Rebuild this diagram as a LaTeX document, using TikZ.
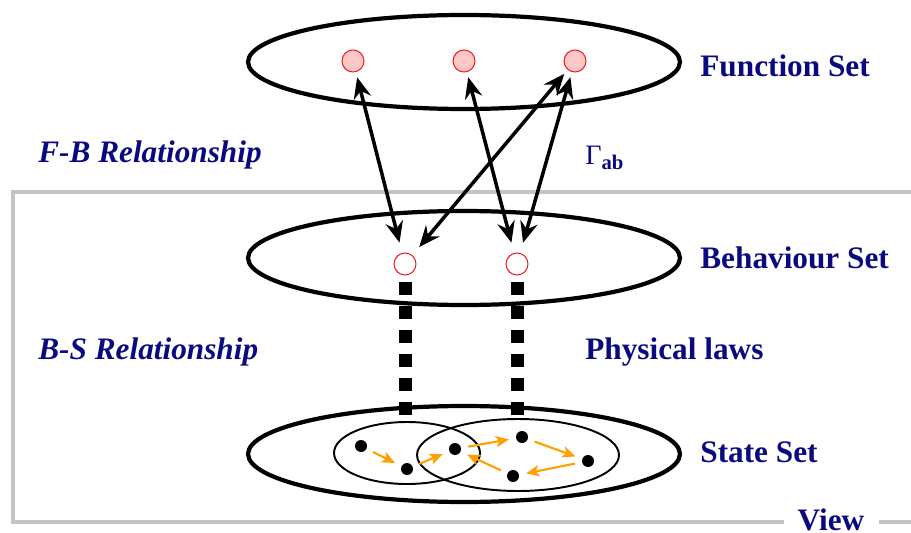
\documentclass[tikz,border=0pt]{standalone}
\usepackage{fontspec}
\setmainfont{Liberation Serif}
\usetikzlibrary{arrows.meta}
\definecolor{fbnavy}{RGB}{10,10,128}
\definecolor{fbpink}{RGB}{255,200,200}
\definecolor{fbred}{RGB}{240,30,30}
\definecolor{fborange}{RGB}{255,160,0}
\definecolor{fbgray}{RGB}{195,195,195}

\begin{document}
\begin{tikzpicture}[x=0.02cm,y=-0.02cm,
  setring/.style={line width=2.4pt},
  func/.style={circle,draw=fbred,fill=fbpink,line width=0.6pt,minimum size=0.44cm,inner sep=0pt},
  behav/.style={circle,draw=fbred,fill=white,line width=0.6pt,minimum size=0.44cm,inner sep=0pt},
  state/.style={circle,fill=black,minimum size=0.24cm,inner sep=0pt},
  fbarrow/.style={{Stealth[length=12pt,width=10pt,inset=4pt]}-{Stealth[length=12pt,width=10pt,inset=4pt]},line width=2pt,shorten <=6pt,shorten >=3pt},
  starrow/.style={-{Stealth[length=7.5pt,width=6.5pt,inset=2pt]},fborange,line width=1.2pt,shorten <=4pt,shorten >=4pt},
  law/.style={line width=0.26cm,dash pattern=on 0.26cm off 0.22cm},
  lbl/.style={text=fbnavy,font=\fontsize{17.8}{20}\selectfont\bfseries,anchor=west,inner sep=0pt},
  rel/.style={lbl,font=\fontsize{17.8}{20}\selectfont\bfseries\itshape}]
  \useasboundingbox (0,0) rectangle (911,533);

  % view frame
  \draw[fbgray,line width=2.3pt] (911,192) -- (13,192) -- (13,522) -- (784,522);
  \draw[fbgray,line width=2.3pt] (879,522) -- (911,522);
  \node[text=fbnavy,font=\fontsize{17.8}{20}\selectfont\bfseries,inner sep=0pt] (view) at (831,520) {View};

  % the three sets
  \draw[setring] (464,62) ellipse (4.32cm and 0.94cm);
  \draw[setring] (464,258) ellipse (4.32cm and 0.94cm);
  \draw[setring] (464,454) ellipse (4.32cm and 0.96cm);
  \draw[line width=1.1pt] (407,453) ellipse (1.46cm and 0.62cm);
  \draw[line width=1.1pt] (518,455) ellipse (2.02cm and 0.72cm);

  \node[func] (f1) at (353,61) {};
  \node[func] (f2) at (464,61) {};
  \node[func] (f3) at (575,61) {};
  \node[behav] (b1) at (405,264) {};
  \node[behav] (b2) at (517,264) {};

  \node[state] (s1) at (361,446) {};
  \node[state] (s2) at (407,469) {};
  \node[state] (s3) at (455,449) {};
  \node[state] (s4) at (522,437) {};
  \node[state] (s5) at (588,461) {};
  \node[state] (s6) at (513,476) {};

  \coordinate (l1) at (405,282);
  \coordinate (l2) at (405,415);
  \coordinate (l3) at (517,282);
  \coordinate (l4) at (517,415);

  % F-B links
  \draw[fbarrow] (b1) -- (f1);
  \draw[fbarrow] (b1) -- (f3);
  \draw[fbarrow] (b2) -- (f2);
  \draw[fbarrow] (b2) -- (f3);

  % B-S links
  \draw[law] (l1) -- (l2);
  \draw[law] (l3) -- (l4);

  % state transitions
  \draw[starrow] (s1) -- (s2);
  \draw[starrow] (s2) -- (s3);
  \draw[starrow] (s3) -- (s4);
  \draw[starrow] (s4) -- (s5);
  \draw[starrow] (s5) -- (s6);
  \draw[starrow] (s6) -- (s3);

  % labels
  \node[lbl] (fset) at (700,66) {Function Set};
  \node[lbl] (bset) at (700,258) {Behaviour Set};
  \node[lbl] (laws) at (585,352) {Physical laws};
  \node[lbl] (sset) at (700,452) {State Set};
  \node[rel] (fb) at (38,155) {F-B Relationship};
  \node[rel] (bs) at (38,352) {B-S Relationship};
  \node[text=fbnavy,anchor=base west,inner sep=0pt] (gamma) at (585,165)
    {\fontsize{16}{18}\selectfont Γ\raisebox{-2.8pt}{\fontsize{11.8}{13}\selectfont\bfseries ab}};
\end{tikzpicture}
\end{document}
